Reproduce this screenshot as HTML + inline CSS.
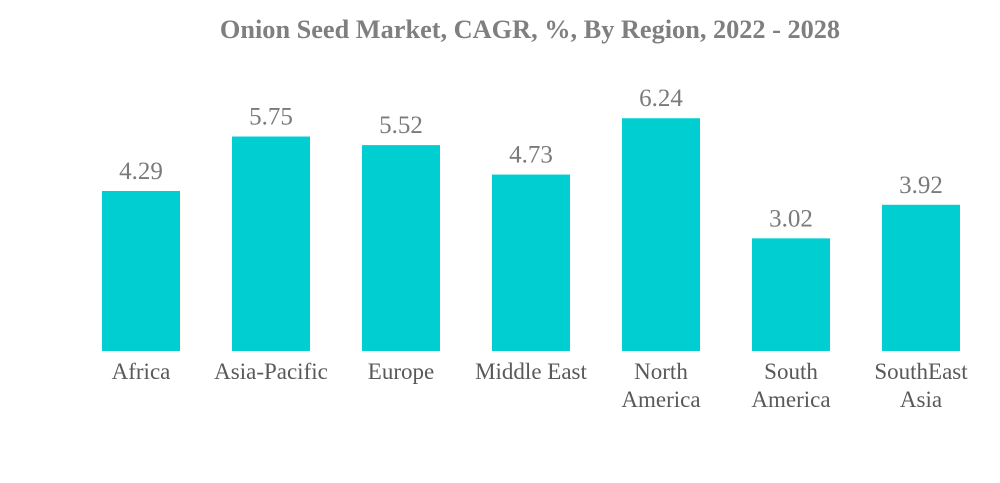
<!DOCTYPE html>
<html><head><meta charset="utf-8"><style>
html,body{margin:0;padding:0;background:#fff;width:1000px;height:483px;overflow:hidden}
svg{display:block}
text{font-family:"Liberation Serif",serif}
</style></head><body>
<svg id="chart" width="1000" height="483">
<text x="530" y="38" text-anchor="middle" font-size="26.3" font-weight="bold" fill="#7f7f7f">Onion Seed Market, CAGR, %, By Region, 2022 - 2028</text>
<g id="bars"></g>
</svg>
<script>
const categories = [["Africa"],["Asia-Pacific"],["Europe"],["Middle East"],["North","America"],["South","America"],["SouthEast","Asia"]];
const values = [4.29,5.75,5.52,4.73,6.24,3.02,3.92];
const labels = ["4.29","5.75","5.52","4.73","6.24","3.02","3.92"];
const baseY = 351, pxPerUnit = 37.3, x0 = 141, step = 130, bw = 78;
const xPos = i => x0 + i*step;
const yPos = v => baseY - v*pxPerUnit;
const g = document.getElementById('bars');
const NS = "http://www.w3.org/2000/svg";
values.forEach((v,i)=>{
  const r = document.createElementNS(NS,'rect');
  r.setAttribute('x', xPos(i)-bw/2);
  r.setAttribute('y', yPos(v));
  r.setAttribute('width', bw);
  r.setAttribute('height', baseY - yPos(v));
  r.setAttribute('fill', '#00ced1');
  
  
  g.appendChild(r);
  const t = document.createElementNS(NS,'text');
  t.setAttribute('x', xPos(i));
  t.setAttribute('y', yPos(v) - 12);
  t.setAttribute('text-anchor','middle');
  t.setAttribute('font-size','25');
  t.setAttribute('fill','#7a7a7a');
  t.textContent = labels[i];
  
  
  g.appendChild(t);
  categories[i].forEach((line,j)=>{
    const c = document.createElementNS(NS,'text');
    c.setAttribute('x', xPos(i));
    c.setAttribute('y', 379 + j*28);
    c.setAttribute('text-anchor','middle');
    c.setAttribute('font-size','23');
    c.setAttribute('fill','#595959');
    c.textContent = line;
    
    
    g.appendChild(c);
  });
});
</script>
</body></html>
